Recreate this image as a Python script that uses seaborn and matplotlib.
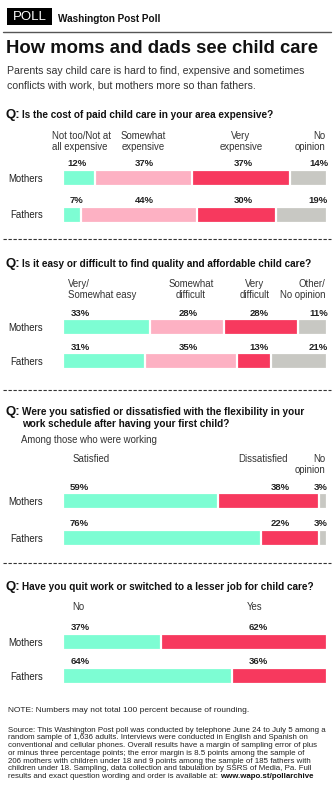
import matplotlib
matplotlib.use("Agg")
import matplotlib.pyplot as plt
import seaborn as sns
import pandas as pd
import numpy as np
from matplotlib.lines import Line2D
from matplotlib.patches import Rectangle

sns.set_theme(style="white")
plt.rcParams['font.family'] = ['Liberation Sans', 'DejaVu Sans']

W, H = 334, 800
groups = ["Mothers", "Fathers"]

# ---- data ----
q1_cats = ["Not too/Not at\nall expensive", "Somewhat\nexpensive", "Very\nexpensive", "No\nopinion"]
q1_mothers = [12, 37, 37, 14]
q1_fathers = [7, 44, 30, 19]

q2_cats = ["Very/\nSomewhat easy", "Somewhat\ndifficult", "Very\ndifficult", "Other/\nNo opinion"]
q2_mothers = [33, 28, 28, 11]
q2_fathers = [31, 35, 13, 21]

q3_cats = ["Satisfied", "Dissatisfied", "No\nopinion"]
q3_mothers = [59, 38, 3]
q3_fathers = [76, 22, 3]

q4_cats = ["No", "Yes"]
q4_mothers = [37, 62]
q4_fathers = [64, 36]

C_TEAL = "#7dfdd3"
C_PINK = "#fdb1c3"
C_RED = "#f7395e"
C_GRAY = "#c8c8c3"
colors4 = [C_TEAL, C_PINK, C_RED, C_GRAY]
colors3 = [C_TEAL, C_RED, C_GRAY]
colors2 = [C_TEAL, C_RED]

fig = plt.figure(figsize=(W / 100, H / 100), dpi=100)
fig.patch.set_facecolor("white")


def T(x, y, s, **kw):
    kw.setdefault("va", "center")
    kw.setdefault("ha", "left")
    kw.setdefault("color", "#222222")
    return fig.text(x / W, 1 - y / H, s, **kw)


def hline(y, x0=3, x1=331, **kw):
    fig.add_artist(Line2D([x0 / W, x1 / W], [1 - y / H, 1 - y / H], transform=fig.transFigure, **kw))


BAR_L, BAR_R = 63, 326.5


def stacked(cats, mothers, fathers, colors, y_m, y_f, label_spec, pct_dy=-1.5):
    spacing = y_f - y_m
    bar_h = 16
    top = y_m - spacing / 2
    ax = fig.add_axes([BAR_L / W, 1 - (top + 2 * spacing) / H, (BAR_R - BAR_L) / W, 2 * spacing / H])
    vals = np.array([mothers, fathers], dtype=float)
    tot = vals.sum(axis=1, keepdims=True)
    widths = vals / tot * 100
    cum = np.cumsum(widths, axis=1)
    for j in range(len(cats) - 1, -1, -1):
        df = pd.DataFrame({"group": groups, "value": cum[:, j]})
        sns.barplot(data=df, x="value", y="group", orient="h", color=colors[j],
                    width=bar_h / spacing, edgecolor="white", linewidth=1.6,
                    saturation=1, ax=ax)
    ax.set_xlim(0, 100)
    ax.set_ylim(1.5, -0.5)
    for s in ax.spines.values():
        s.set_visible(False)
    ax.set_xticks([])
    ax.set_xlabel("")
    ax.set_ylabel("")
    ax.tick_params(axis="y", length=0, pad=14.5)
    for t in ax.get_yticklabels():
        t.set_fontsize(6.9)
        t.set_color("#222222")
    ax.patch.set_alpha(0)
    # percentage labels
    for i, (row, yb) in enumerate([(mothers, y_m), (fathers, y_f)]):
        for j, v in enumerate(row):
            x, ha = label_spec[j]
            T(x, yb - bar_h / 2 + pct_dy, f"{v}%", ha=ha, va="bottom", fontsize=6.8,
              fontweight="bold", color="#222222")
    return ax


def headers(cats, spec, y1):
    for c, (x, ha) in zip(cats, spec):
        T(x, y1, c, ha=ha, va="top", fontsize=6.9, color="#333333", linespacing=1.15,
          multialignment=ha if ha != "center" else "center")


def question(y, lines):
    T(6, y, "Q:", fontsize=9.5, fontweight="bold", color="#111111")
    for k, ln in enumerate(lines):
        T(22, y + k * 11.5, ln, fontsize=7.2, fontweight="bold", color="#111111")


# ---- header ----
fig.add_artist(Rectangle((7 / W, 1 - 25 / H), 45 / W, 17 / H, transform=fig.transFigure,
                         facecolor="black", edgecolor="none"))
T(29.5, 16.5, "POLL", ha="center", fontsize=9.5, color="white")
T(58, 18.5, "Washington Post Poll", fontsize=7.2, fontweight="bold", color="#111111")
hline(31.5, 3, 331, color="#555555", lw=1)
T(6, 48.5, "How moms and dads see child care", fontsize=13.3, fontweight="bold", color="#111111")
T(7, 71, "Parents say child care is hard to find, expensive and sometimes", fontsize=7.6, color="#333333")
T(7, 85, "conflicts with work, but mothers more so than fathers.", fontsize=7.6, color="#333333")

# ---- Q1 ----
question(115, ["Is the cost of paid child care in your area expensive?"])
headers(q1_cats, [(52, "left"), (143, "center"), (241, "center"), (325, "right")], 131)
stacked(q1_cats, q1_mothers, q1_fathers, colors4, 178, 214.5,
        [(77, "center"), (144, "center"), (243, "center"), (328, "right")])
hline(239, 3, 331, color="#333333", lw=0.8, ls=(0, (3, 1.5)))

# ---- Q2 ----
question(264, ["Is it easy or difficult to find quality and affordable child care?"])
headers(q2_cats, [(68, "left"), (191, "center"), (255, "center"), (325, "right")], 279)
stacked(q2_cats, q2_mothers, q2_fathers, colors4, 327, 361,
        [(80, "center"), (188, "center"), (259, "center"), (328, "right")])
hline(390, 3, 331, color="#333333", lw=0.8, ls=(0, (3, 1.5)))

# ---- Q3 ----
question(412, ["Were you satisfied or dissatisfied with the flexibility in your",
               "work schedule after having your first child?"])
T(21, 440, "Among those who were working", fontsize=6.9, color="#333333")
headers(q3_cats, [(73, "left"), (263, "center"), (325, "right")], 454)
stacked(q3_cats, q3_mothers, q3_fathers, colors3, 501, 537.5,
        [(79, "center"), (280, "center"), (328, "right")])
hline(563, 3, 331, color="#333333", lw=0.8, ls=(0, (3, 1.5)))

# ---- Q4 ----
question(587, ["Have you quit work or switched to a lesser job for child care?"])
headers(q4_cats, [(72, "left"), (255, "center")], 602)
stacked(q4_cats, q4_mothers, q4_fathers, colors2, 642, 676,
        [(80, "center"), (258, "center")])

# ---- notes ----
T(8, 711, "NOTE: Numbers may not total 100 percent because of rounding.", fontsize=6.0, color="#222222")
src = ["Source: This Washington Post poll was conducted by telephone June 24 to July 5 among a",
       "random sample of 1,636 adults. Interviews were conducted in English and Spanish on",
       "conventional and cellular phones. Overall results have a margin of sampling error of plus",
       "or minus three percentage points; the error margin is 8.5 points among the sample of",
       "206 mothers with children under 18 and 9 points among the sample of 185 fathers with",
       "children under 18. Sampling, data collection and tabulation by SSRS of Media, Pa. Full"]
for k, ln in enumerate(src):
    T(8, 730 + k * 7.8, ln, fontsize=5.65, color="#222222")
y_last = 730 + 6 * 7.8
t = T(8, y_last, "results and exact question wording and order is available at: ", fontsize=5.65, color="#222222")
fig.canvas.draw()
bb = t.get_window_extent()
T(bb.x1, y_last, "www.wapo.st/pollarchive", fontsize=5.65, fontweight="bold", color="#111111")

fig.savefig("out.png", dpi=100, facecolor="white")
